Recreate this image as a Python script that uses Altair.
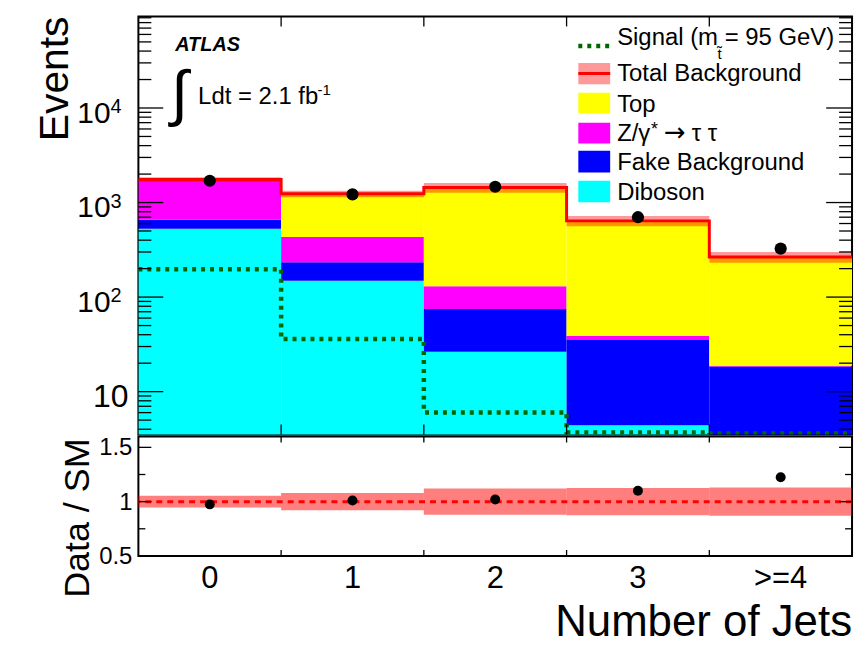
import altair as alt
import pandas as pd

# ---------------- data ----------------
jet_bins = ["0", "1", "2", "3", ">=4"]
bin_lo = [0, 1, 2, 3, 4]
bin_hi = [1, 2, 3, 4, 5]
diboson = [528, 149, 26.4, 4.4, 2.0]
fake_bkg = [130, 84, 48.4, 30.8, 16.5]
z_tautau = [1077, 198, 55.8, 3.6, 0.3]
top_bkg = [15, 805, 1310, 601, 247]
signal = [197, 36, 6.0, 3.7, 3.6]
data_obs = [1700, 1220, 1470, 700, 326]
bkg_rel_err = [0.055, 0.08, 0.12, 0.125, 0.13]
ratio = [0.975, 1.01, 1.02, 1.10, 1.225]

y_major = [10, 100, 1000, 10000]
y_major_exp = ["", "2", "3", "4"]
ratio_major = [0.5, 1.0, 1.5]
ratio_minor = [0.75, 1.25]

FONT = "Liberation Sans"
W, H1, H2 = 717, 420, 120
YDOM = [3.52, 92900]

comp_names = ["Diboson", "Fake Background", "Z", "Top"]
comp_colors = ["#00ffff", "#0000ff", "#ff00ff", "#ffff00"]
components = [diboson, fake_bkg, z_tautau, top_bkg]

rows = []
for i in range(len(jet_bins)):
    cum = 0.0
    for name, vals in zip(comp_names, components):
        lo = cum if cum > 0 else 1.0
        cum += vals[i]
        rows.append({"lo": bin_lo[i], "hi": bin_hi[i], "y0": lo, "y1": cum, "comp": name})
stack_df = pd.DataFrame(rows)

total = [sum(c[i] for c in components) for i in range(len(jet_bins))]
bins_df = pd.DataFrame({
    "lo": bin_lo, "hi": bin_hi, "center": [l + 0.5 for l in bin_lo],
    "label": jet_bins, "total": total, "data": data_obs,
    "band_lo": [t * (1 - e) for t, e in zip(total, bkg_rel_err)],
    "band_hi": [t * (1 + e) for t, e in zip(total, bkg_rel_err)],
    "r_lo": [1 - e for e in bkg_rel_err], "r_hi": [1 + e for e in bkg_rel_err],
    "ratio": ratio,
})
edges = bin_lo + [bin_hi[-1]]
step_df = pd.DataFrame({"x": edges, "total": total + [total[-1]], "signal": signal + [signal[-1]]})

ticks_minor = []
for k in range(0, 5):
    for m in range(2, 10):
        v = m * 10 ** k
        if YDOM[0] < v < YDOM[1]:
            ticks_minor.append(v)
major_df = pd.DataFrame({"v": y_major, "exp": y_major_exp})
minor_df = pd.DataFrame({"v": ticks_minor})
edge_df = pd.DataFrame({"e": bin_lo[1:]})

xs = alt.Scale(domain=[0, 5], nice=False, zero=False)
ys = alt.Scale(type="log", domain=YDOM, nice=False)
rs = alt.Scale(domain=[0.5, 1.6], nice=False, zero=False)
one = pd.DataFrame({"k": [0]})


def txt(s, x, y, size, align="left", baseline="alphabetic", font=FONT, **kw):
    return alt.Chart(one).mark_text(text=s, fontSize=size, font=font, align=align,
                                    baseline=baseline, color="black", **kw).encode(
        x=alt.value(x), y=alt.value(y))


def vrect(x1, x2, y1, y2, color, **kw):
    return alt.Chart(one).mark_rect(color=color, **kw).encode(
        x=alt.value(x1), x2=alt.value(x2), y=alt.value(y1), y2=alt.value(y2))


def hline(x1, x2, y, color, width, **kw):
    return alt.Chart(one).mark_rule(color=color, strokeWidth=width, **kw).encode(
        x=alt.value(x1), x2=alt.value(x2), y=alt.value(y), y2=alt.value(y))


# ---------------- top panel ----------------
stack = alt.Chart(stack_df).mark_rect(clip=True).encode(
    x=alt.X("lo:Q", scale=xs, axis=None), x2="hi:Q",
    y=alt.Y("y0:Q", scale=ys, axis=None), y2="y1:Q",
    color=alt.Color("comp:N", scale=alt.Scale(domain=comp_names, range=comp_colors), legend=None),
)
band = alt.Chart(bins_df).mark_rect(color="#ff0000", opacity=0.4, clip=True).encode(
    x=alt.X("lo:Q", scale=xs, axis=None), x2="hi:Q",
    y=alt.Y("band_lo:Q", scale=ys, axis=None), y2="band_hi:Q")
tot_line = alt.Chart(step_df).mark_line(color="#ff0000", strokeWidth=3, interpolate="step-after", clip=True).encode(
    x=alt.X("x:Q", scale=xs, axis=None), y=alt.Y("total:Q", scale=ys, axis=None))
sig_line = alt.Chart(step_df).mark_line(color="#006600", strokeWidth=4.5, strokeDash=[4, 5],
                                        interpolate="step-after", clip=True).encode(
    x=alt.X("x:Q", scale=xs, axis=None), y=alt.Y("signal:Q", scale=ys, axis=None))
pts = alt.Chart(bins_df).mark_circle(color="black", size=150, opacity=1).encode(
    x=alt.X("center:Q", scale=xs, axis=None), y=alt.Y("data:Q", scale=ys, axis=None))


def yrule(df, x1, x2):
    return alt.Chart(df).mark_rule(color="black", strokeWidth=1.3).encode(
        y=alt.Y("v:Q", scale=ys, axis=None), x=alt.value(x1), x2=alt.value(x2))


maj_l = yrule(major_df, 0, 25)
maj_r = yrule(major_df, W - 26, W)
min_l = yrule(minor_df, 0, 13)
min_r = yrule(minor_df, W - 13, W)
xt_top = alt.Chart(edge_df).mark_rule(color="black", strokeWidth=1.3).encode(
    x=alt.X("e:Q", scale=xs, axis=None), y=alt.value(0), y2=alt.value(10))
xt_bot = alt.Chart(edge_df).mark_rule(color="black", strokeWidth=1.3).encode(
    x=alt.X("e:Q", scale=xs, axis=None), y=alt.value(H1 - 10), y2=alt.value(H1))

lab10 = alt.Chart(major_df).transform_filter("datum.exp == ''").mark_text(
    text="10", fontSize=32, font=FONT, align="right", baseline="alphabetic", dy=15).encode(
    y=alt.Y("v:Q", scale=ys, axis=None), x=alt.value(-10))
labbase = alt.Chart(major_df).transform_filter("datum.exp != ''").mark_text(
    text="10", fontSize=30, font=FONT, align="right", baseline="alphabetic", dy=15).encode(
    y=alt.Y("v:Q", scale=ys, axis=None), x=alt.value(-28))
labexp = alt.Chart(major_df).transform_filter("datum.exp != ''").mark_text(
    fontSize=20, font=FONT, align="left", baseline="alphabetic", dy=5).encode(
    y=alt.Y("v:Q", scale=ys, axis=None), x=alt.value(-28), text="exp:N")

events = alt.Chart(one).mark_text(text="Events", fontSize=41, font=FONT, angle=270,
                                  align="right", baseline="alphabetic").encode(
    x=alt.value(-71), y=alt.value(0))
anchor = alt.Chart(one).mark_rule(strokeOpacity=0).encode(
    x=alt.value(-130), x2=alt.value(-130), y=alt.value(2), y2=alt.value(4))

# legend
LX1, LX2, TX = 442, 474, 481
legend_layers = [
    hline(LX1, LX2, 29.7, "#006600", 4.5, strokeDash=[4, 5]),
    txt("Signal (m", TX, 28.3, 24),
    txt("t\u0303", 584, 43, 15, align="center"),
    txt("= 95 GeV)", 589, 28.3, 24),
    vrect(LX1, LX2, 46.7, 68, "#ff0000", opacity=0.4),
    hline(LX1, LX2, 57.3, "#ff0000", 3),
    txt("Total Background", TX, 65, 24),
    vrect(LX1, LX2, 76.7, 97.3, "#ffff00"),
    txt("Top", TX, 95.5, 24),
    vrect(LX1, LX2, 106.7, 127.7, "#ff00ff"),
    txt("Z/\u03b3", TX, 125.5, 24),
    txt("*", 515, 119, 18),
    txt("\u2192", 528, 125.5, 26, font="DejaVu Sans"),
    txt("\u03c4 \u03c4", 556, 125.5, 24),
    vrect(LX1, LX2, 135, 156.7, "#0000ff"),
    txt("Fake Background", TX, 154, 24),
    vrect(LX1, LX2, 165, 186.7, "#00ffff"),
    txt("Diboson", TX, 184.5, 24),
]

annot = [
    txt("ATLAS", 37, 35, 20, fontWeight="bold", fontStyle="italic"),
    txt("\u222b", 33, 98, 62),
    txt("Ldt = 2.1 fb", 60, 88, 24),
    txt("-1", 180, 79, 15),
]

top_panel = alt.layer(
    stack, band, tot_line, sig_line, pts,
    maj_l, maj_r, min_l, min_r, xt_top, xt_bot,
    lab10, labbase, labexp, events, anchor,
    *legend_layers, *annot,
).properties(width=W, height=H1)

# ---------------- ratio panel ----------------
rband = alt.Chart(bins_df).mark_rect(color="#ff0000", opacity=0.5).encode(
    x=alt.X("lo:Q", scale=xs, axis=None), x2="hi:Q",
    y=alt.Y("r_lo:Q", scale=rs, axis=None), y2="r_hi:Q")
rline = alt.Chart(one).mark_rule(color="#ff0000", strokeWidth=3, strokeDash=[6, 5]).encode(
    y=alt.datum(1, scale=rs, axis=None))
rpts = alt.Chart(bins_df).mark_circle(color="black", size=100, opacity=1).encode(
    x=alt.X("center:Q", scale=xs, axis=None), y=alt.Y("ratio:Q", scale=rs, axis=None))
rmaj_df = pd.DataFrame({"v": ratio_major})
rmin_df = pd.DataFrame({"v": ratio_minor})


def rrule(df, x1, x2):
    return alt.Chart(df).mark_rule(color="black", strokeWidth=1.3).encode(
        y=alt.Y("v:Q", scale=rs, axis=None), x=alt.value(x1), x2=alt.value(x2))


r_ticks = [
    rrule(rmaj_df, 0, 13), rrule(rmaj_df, W - 13, W),
    rrule(rmin_df, 0, 7), rrule(rmin_df, W - 7, W),
    alt.Chart(edge_df).mark_rule(color="black", strokeWidth=1.3).encode(
        x=alt.X("e:Q", scale=xs, axis=None), y=alt.value(0), y2=alt.value(6)),
    alt.Chart(edge_df).mark_rule(color="black", strokeWidth=1.3).encode(
        x=alt.X("e:Q", scale=xs, axis=None), y=alt.value(H2 - 6), y2=alt.value(H2)),
]
rlab = alt.Chart(rmaj_df).mark_text(
    fontSize=24, font=FONT, align="right", baseline="middle", dy=1).encode(
    y=alt.Y("v:Q", scale=rs, axis=None), x=alt.value(-6), text=alt.Text("v:Q", format="~g"))
xlabels = alt.Chart(bins_df).mark_text(fontSize=31, font=FONT, align="center", baseline="alphabetic").encode(
    x=alt.X("center:Q", scale=xs, axis=None), y=alt.value(H2 + 32), text="label:N")
xtitle = txt("Number of Jets", W, H2 + 80, 44, align="right")
ytitle = alt.Chart(one).mark_text(text="Data / SM", fontSize=36, font=FONT, angle=270,
                                  align="right", baseline="alphabetic").encode(
    x=alt.value(-50), y=alt.value(2))

ratio_panel = alt.layer(
    rband, rline, rpts, *r_ticks, rlab, xlabels, xtitle, ytitle,
).properties(width=W, height=H2)

chart = alt.vconcat(top_panel, ratio_panel, spacing=-2).properties(
    padding={"left": 0, "top": 5, "right": 5, "bottom": 5},
    background="white",
).configure_view(stroke="black", strokeWidth=2)

chart.save("out.html", embed_options={"renderer": "svg", "actions": False})
